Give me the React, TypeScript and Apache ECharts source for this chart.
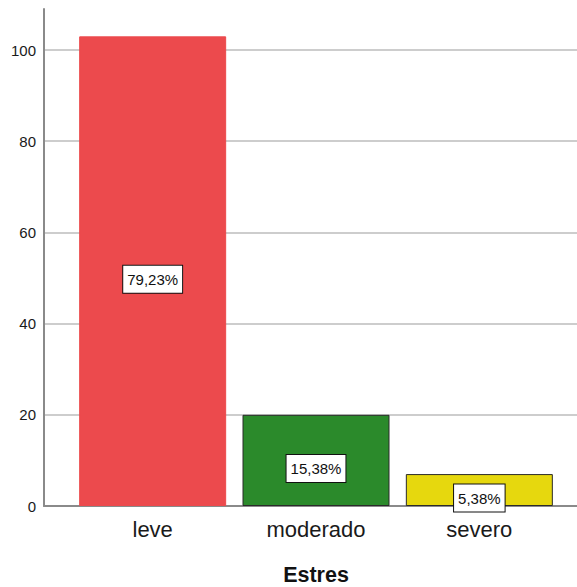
import React, { useEffect, useRef } from "react";
import * as echarts from "echarts";

const categories = ["leve", "moderado", "severo"];
const counts = [103, 20, 7];
const yTicks = [0, 20, 40, 60, 80, 100];
const axisTitle = "Estres";

const barColors = ["#EC4A4D", "#2B8A2B", "#E6D80E"];
const barBorders = ["#EC4A4D", "#2a2a2a", "#2a2a2a"];
const FONT = "'Liberation Sans', Arial, sans-serif";

export default function App() {
  const ref = useRef<HTMLDivElement>(null);
  useEffect(() => {
    if (!ref.current) return;
    const chart = echarts.init(ref.current, undefined, { renderer: "svg" });
    const total = counts.reduce((a, b) => a + b, 0);
    const yMax = 109;
    chart.setOption({
      animation: false,
      backgroundColor: "#ffffff",
      grid: [
        { left: 44, right: 0, top: 9, bottom: 81, outerBoundsMode: "none", containLabel: false },
        { left: 71, right: 16, top: 9, bottom: 81, outerBoundsMode: "none", containLabel: false },
      ],
      xAxis: [
        {
          type: "value",
          gridIndex: 0,
          min: 0,
          max: 1,
          axisLine: { show: true, lineStyle: { color: "#8a8a8a", width: 2 } },
          axisTick: { show: false },
          axisLabel: { show: false },
          splitLine: { show: false },
        },
        {
          type: "category",
          gridIndex: 1,
          data: categories,
          axisLine: { show: false },
          axisTick: { show: false },
          axisLabel: {
            color: "#1a1a1a",
            fontFamily: FONT,
            fontSize: 22,
            margin: 12,
          },
          name: axisTitle,
          nameLocation: "middle",
          nameGap: 58,
          nameTextStyle: {
            color: "#111",
            fontFamily: FONT,
            fontSize: 21.5,
            fontWeight: "bold",
          },
        },
      ],
      yAxis: [
        {
          type: "value",
          gridIndex: 0,
          min: 0,
          max: yMax,
          interval: 20,
          axisLine: { show: true, lineStyle: { color: "#8a8a8a", width: 2 } },
          axisTick: { show: false },
          axisLabel: {
            showMaxLabel: false,
            color: "#1a1a1a",
            fontFamily: FONT,
            fontSize: 15,
            margin: 8,
            formatter: (v: number) => (yTicks.includes(v) ? String(v) : ""),
          },
          splitLine: {
            show: true,
            showMaxLine: false,
            showMinLine: false,
            lineStyle: { color: "#cdcdcd", width: 2 },
          },
        },
        {
          type: "value",
          gridIndex: 1,
          min: 0,
          max: yMax,
          show: false,
        },
      ],
      series: [
        {
          type: "bar",
          xAxisIndex: 1,
          yAxisIndex: 1,
          barCategoryGap: "10%",
          data: counts.map((v, i) => ({
            value: v,
            itemStyle: {
              color: barColors[i],
              borderColor: barBorders[i],
              borderWidth: 1,
            },
          })),
          label: {
            show: true,
            position: "inside",
            offset: [0, 8],
            formatter: (p: any) =>
              ((p.value / total) * 100).toFixed(2).replace(".", ",") + "%",
            color: "#111",
            fontFamily: FONT,
            fontSize: 15,
            lineHeight: 18,
            backgroundColor: "#ffffff",
            borderColor: "#111",
            borderWidth: 1,
            padding: [5, 4, 4, 4],
          },
        },
      ],
    });
    return () => chart.dispose();
  }, []);
  return (
    <div
      ref={ref}
      style={{ position: "fixed", left: 0, top: 0, width: 577, height: 587 }}
    />
  );
}
